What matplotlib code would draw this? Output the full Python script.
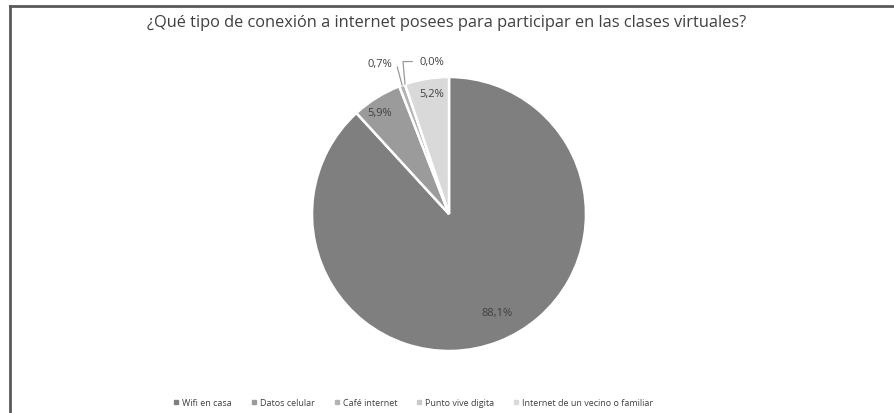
import numpy as np
import matplotlib
matplotlib.use("Agg")
import matplotlib.pyplot as plt
from matplotlib.lines import Line2D

categories = ["Wifi en casa", "Datos celular", "Café internet", "Punto vive digita",
              "Internet de un vecino o familiar"]
values = [88.1, 5.9, 0.7, 0.0, 5.2]
labels = ["88,1%", "5,9%", "0,7%", "0,0%", "5,2%"]
colors = ["#7f7f7f", "#9b9b9b", "#b3b3b3", "#c9c9c9", "#d9d9d9"]
title = "¿Qué tipo de conexión a internet posees para participar en las clases virtuales?"

FONT = ["Open Sans", "DejaVu Sans"]
plt.rcParams['font.family'] = FONT

W, H = 895, 414
fig = plt.figure(figsize=(W / 100, H / 100), dpi=100)

# frame
fig.add_artist(plt.Line2D([10.5 / W, 10.5 / W], [0, 1 - 7 / H], transform=fig.transFigure,
                          color="#5a5a5a", lw=2))
fig.add_artist(plt.Line2D([10 / W, 1], [1 - 7 / H, 1 - 7 / H], transform=fig.transFigure,
                          color="#5a5a5a", lw=2))

cx, cy, R = 449, 215, 137
ax = fig.add_axes([(cx - R) / W, (H - cy - R) / H, 2 * R / W, 2 * R / H])
ax.axis("off")

wedges, _ = ax.pie(values, colors=colors, startangle=90, counterclock=False,
                   radius=1.0, wedgeprops=dict(edgecolor="white", linewidth=1.8))
ax.set_xlim(-1, 1)
ax.set_ylim(-1, 1)
ax.set_aspect("equal")

fs = 8
total = sum(values)
start = 90.0
# (radius, angle shift) for inside labels
inside = {0: (0.8, 4.7), 1: (0.9, 2.6), 4: (0.886, -1.0)}
for i, (v, lab) in enumerate(zip(values, labels)):
    theta = start - v / total * 360 / 2
    start -= v / total * 360
    t = np.deg2rad(theta)
    if v >= 3:
        r, dth = inside[i]
        t2 = np.deg2rad(theta + dth)
        ax.text(r * np.cos(t2), r * np.sin(t2), lab, ha="center", va="center",
                fontsize=fs, color="#404040")
    else:
        if i == 2:
            lr, la, cs = 1.21, 114.5, "angle,angleA=0,angleB=105,rad=0"
        else:
            lr, la, cs = 1.12, 96.5, "angle,angleA=180,angleB=95,rad=0"
        tl = np.deg2rad(la)
        ax.annotate(lab, xy=(np.cos(t), np.sin(t)),
                    xytext=(lr * np.cos(tl), lr * np.sin(tl)),
                    ha="center", va="center", fontsize=fs, color="#404040",
                    arrowprops=dict(arrowstyle="-", color="#9a9a9a", lw=0.9,
                                    shrinkA=3, shrinkB=0, connectionstyle=cs))

fig.text(447 / W, 1 - 23 / H, title, ha="center", va="center", fontsize=11.8, color="#404040")

handles = [Line2D([], [], marker="s", linestyle="", markersize=3.2,
                  markerfacecolor=c, markeredgecolor=c) for c in colors]
fig.legend(handles, categories, loc="center", bbox_to_anchor=(413 / W, 1 - 404 / H),
           ncol=5, frameon=False, fontsize=6.5, handlelength=0.8, handletextpad=0.3,
           columnspacing=2.0, labelcolor="#404040")

fig.savefig("out.png", dpi=100, facecolor="white")
